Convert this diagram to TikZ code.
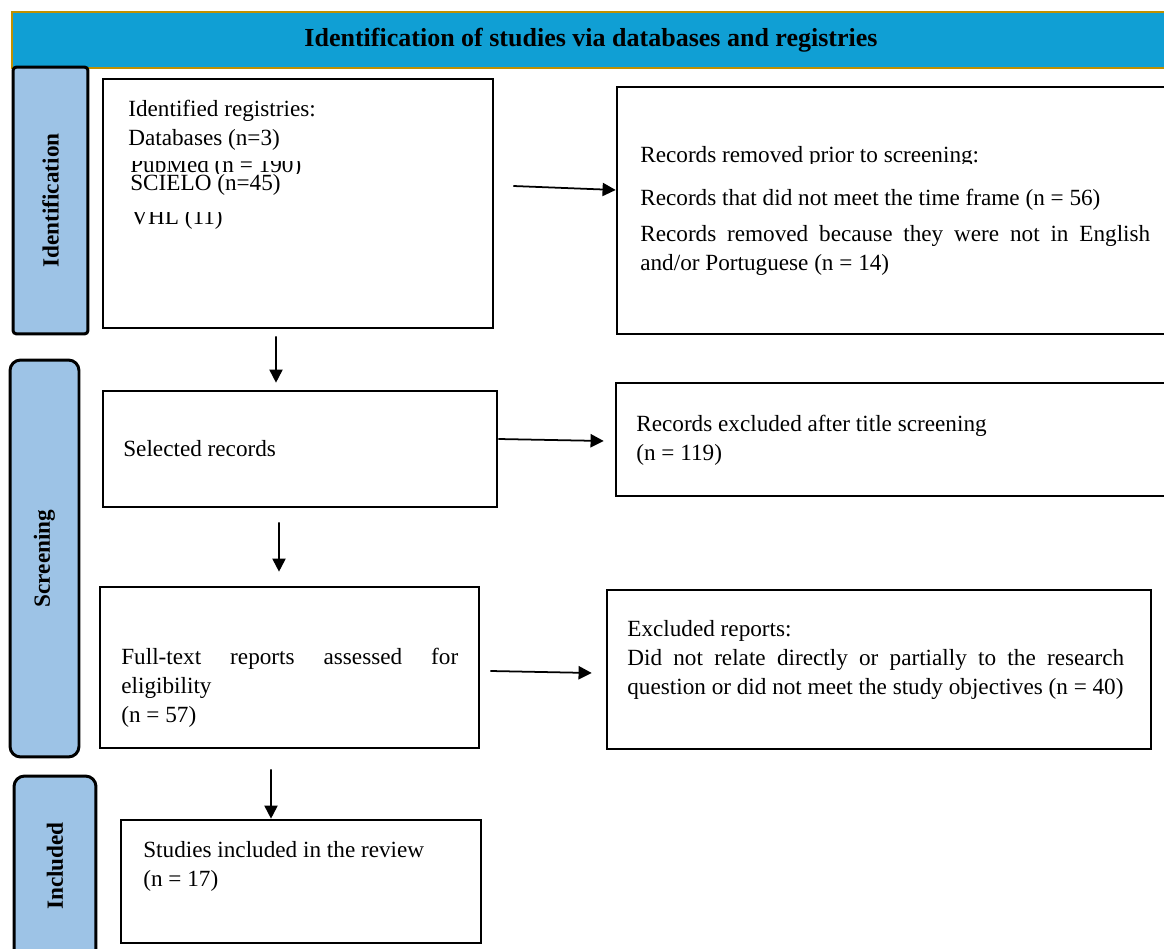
\documentclass[tikz,border=0pt]{standalone}
\usepackage{fontspec}
\setmainfont{Liberation Serif}
\usetikzlibrary{arrows.meta}
\definecolor{headblue}{RGB}{16,159,212}
\definecolor{headgold}{RGB}{191,144,0}
\definecolor{barblue}{RGB}{157,195,230}
\tikzset{
	headstyle/.style={rectangle,draw=headgold,line width=1.3pt,fill=headblue,font=\fontsize{14.8}{17}\selectfont\bfseries},
	boxstyle/.style={rectangle,draw=black,line width=1.5pt,fill=white},
	barstyle/.style={rectangle,draw=black,line width=1.7pt,fill=barblue,rounded corners=6pt},
	labelstyle/.style={rotate=90,font=\fontsize{13.2}{15}\selectfont\bfseries},
	textstyle/.style={anchor=north west,inner sep=0,font=\fontsize{13.2}{16.5}\selectfont,align=left},
	arrowstyle/.style={line width=1pt,-{Triangle[length=7.5pt,width=7.5pt]}}
}

\begin{document}
\begin{tikzpicture}[x=0.02cm,y=-0.02cm]
	\clip (0,0) rectangle (1164,949);
	\fill[white] (0,0) rectangle (1164,949);
	\node[headstyle,minimum width=23.16cm,minimum height=1.12cm] (header) at (591,40) {Identification of studies via databases and registries};
	\node[barstyle,rounded corners=2pt,minimum width=1.5cm,minimum height=5.34cm] (identbar) at (50.5,200.5) {};
	\node[barstyle,minimum width=1.38cm,minimum height=7.94cm] (screenbar) at (44.5,558.5) {};
	\node[barstyle,minimum width=1.64cm,minimum height=3.68cm] (inclbar) at (55,868) {};
	\node[labelstyle] (identlabel) at (identbar) {Identification};
	\node[labelstyle] (screenlabel) at (screenbar) {Screening};
	\node[labelstyle] (incllabel) at (55,866) {Included};
	\node[boxstyle,minimum width=7.8cm,minimum height=4.98cm] (box1) at (298,203.5) {};
	\node[boxstyle,minimum width=11.06cm,minimum height=4.94cm] (box2) at (893.5,210.5) {};
	\node[boxstyle,minimum width=7.88cm,minimum height=2.32cm] (box3) at (300,449) {};
	\node[boxstyle,minimum width=11.08cm,minimum height=2.26cm] (box4) at (893,439.5) {};
	\node[boxstyle,minimum width=7.58cm,minimum height=3.22cm] (box5) at (289.5,667.5) {};
	\node[boxstyle,minimum width=10.88cm,minimum height=3.18cm] (box6) at (879,669.5) {};
	\node[boxstyle,minimum width=7.2cm,minimum height=2.46cm] (box7) at (301,881.5) {};
	\node[textstyle] (registries) at (128,100) {Identified registries:\\Databases (n=3)};
	\begin{scope}
		\clip (110,162) rectangle (480,174);
		\node[textstyle] (pubmed) at (130,156) {PubMed (n = 190)};
	\end{scope}
	\node[textstyle] (scielo) at (130,174) {SCIELO (n=45)};
	\begin{scope}
		\clip (110,213) rectangle (480,240);
		\node[textstyle] (vhl) at (131,208) {VHL (11)};
	\end{scope}
	\begin{scope}
		\clip (630,130) rectangle (1160,164);
		\node[textstyle] (removed) at (640,146) {Records removed prior to screening:};
	\end{scope}
	\node[textstyle] (timeframe) at (640,189) {Records that did not meet the time frame (n = 56)};
	\node[textstyle,text width=10.2cm,align=justify] (language) at (640,225) {Records removed because they were not in English\linebreak and/or Portuguese (n = 14)};
	\node[textstyle] (selected) at (123,440) {Selected records};
	\node[textstyle] (titleexcl) at (636,415) {Records excluded after title screening\\(n = 119)};
	\node[textstyle,text width=6.74cm,align=justify] (fulltext) at (121,648) {Full-text reports assessed for\linebreak eligibility\\(n = 57)};
	\node[textstyle,text width=9.94cm,align=justify] (excluded) at (627,620) {Excluded reports:\\Did not relate directly or partially to the research\linebreak question or did not meet the study objectives (n = 40)};
	\node[textstyle] (included) at (143,841) {Studies included in the review\\(n = 17)};
	\draw[arrowstyle] ([xshift=0.38cm,yshift=0.35cm]box1.east) -- ([yshift=0.41cm]box2.west);
	\draw[arrowstyle] ([xshift=-0.44cm,yshift=-0.14cm]box1.south) -- ([xshift=-0.48cm,yshift=0.14cm]box3.north);
	\draw[arrowstyle] ([yshift=0.2cm]box3.east) -- ([xshift=-0.22cm,yshift=-0.03cm]box4.west);
	\draw[arrowstyle] ([xshift=-0.42cm,yshift=-0.28cm]box3.south) -- ([xshift=-0.21cm,yshift=0.28cm]box5.north);
	\draw[arrowstyle] ([xshift=0.2cm,yshift=-0.07cm]box5.east) -- ([xshift=-0.28cm,yshift=-0.07cm]box6.west);
	\draw[arrowstyle] ([xshift=-0.37cm,yshift=-0.4cm]box5.south) -- ([xshift=-0.6cm]box7.north);
\end{tikzpicture}
\end{document}
